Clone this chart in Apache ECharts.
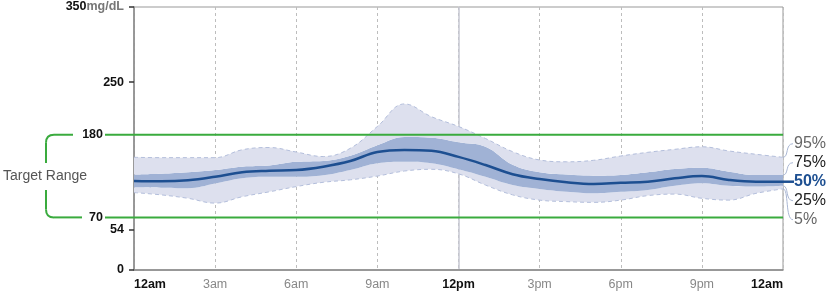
<!DOCTYPE html>
<html>
<head>
<meta charset="utf-8">
<script src="https://cdn.jsdelivr.net/npm/echarts@6/dist/echarts.min.js"></script>
<style>
  html, body { margin: 0; padding: 0; background: #fff; }
  #agp-chart { width: 829px; height: 295px; }
</style>
</head>
<body>
<div id="agp-chart"></div>
<script>
// hourly percentiles, mg/dL (12am .. 12am)
var hours  = [0,1,2,3,4,5,6,7,8,9,10,11,12,13,14,15,16,17,18,19,20,21,22,23,24];
var p95    = [150,149.5,149.5,149.5,160,163,157,151,162,191,221,204,191,175,157.5,146.4,144,146,151.7,156.6,160.6,164,158.4,154,150];
var p75    = [127,128,130,133,137.5,139,144,145,152,166,177,176,170,164,140,130,127,125.5,126.4,130,134.4,136,130.8,126.4,126.4];
var p50    = [118.4,118,119.4,124,130,132,133,137.5,145,157,159.7,158.6,150.5,139.7,127.5,121,116.7,114.5,116,117.5,122,125,119.8,117.5,117.5];
var p25    = [110,109.5,108.7,115,122,124,124,126,133,142,144,142,134,124,113,107.8,104,102,104,106.5,112,115.4,112,111,112];
var p5     = [103,100,95.4,89,97.5,104,111,116.7,120,125,131.7,134,128,113,100,93,91,90,93,99,101,95.4,93,102,108];

var timeTicks   = [0,3,6,9,12,15,18,21,24];
var timeLabels  = ['12am','3am','6am','9am','12pm','3pm','6pm','9pm','12am'];
var yLabelVals  = [0,54,70,180,250,350];
var yTickVals   = [0,54,250,350];
var targetRange = [70,180];
var pctLabels   = ['95%','75%','50%','25%','5%'];

var FONT = 'Arial, "Liberation Sans", sans-serif';
var OUTER = '#dde0ee', INNER = '#a0b2d5', MED = '#1d4f91', EDGE = '#b3bedb', GREEN = '#3aab3e';

function diff(a, b) { return a.map(function (v, i) { return v - b[i]; }); }

var chart = echarts.init(document.getElementById('agp-chart'));

var option = {
  animation: false,
  grid: { left: 134, right: 46, top: 7, bottom: 25, show: true, borderColor: '#999', borderWidth: 1 },
  xAxis: [{
    type: 'category', data: hours, boundaryGap: false,
    axisLine: { show: true, lineStyle: { color: '#888', width: 1.5 } },
    axisTick: { show: false },
    axisLabel: {
      interval: 2, margin: 8, fontFamily: FONT, fontSize: 12.5,
      alignMinLabel: 'left', alignMaxLabel: 'right',
      formatter: function (v) {
        var h = Number(v);
        var t = timeLabels[timeTicks.indexOf(h)];
        return (h % 12 === 0) ? '{b|' + t + '}' : '{n|' + t + '}';
      },
      rich: {
        b: { fontWeight: 'bold', color: '#111', fontFamily: FONT, fontSize: 12.5 },
        n: { color: '#888', fontFamily: FONT, fontSize: 12.5 }
      }
    },
    splitLine: { show: true, interval: 2, lineStyle: { color: '#bdbdbd', type: [3, 3], width: 1 } }
  }, {
    type: 'category', data: hours, boundaryGap: false, position: 'top',
    axisLine: { show: false }, axisTick: { show: false }, axisLabel: { show: false },
    splitLine: { show: true, interval: 11, lineStyle: { color: ['transparent', '#c6c7d2', 'transparent'], width: 1.5 } }
  }],
  yAxis: {
    type: 'value', min: 0, max: 350,
    axisLine: { show: true, lineStyle: { color: '#888', width: 1.5 } },
    axisTick: { show: true, customValues: yTickVals, length: 5, lineStyle: { color: '#333', width: 1.5 } },
    axisLabel: {
      customValues: yLabelVals, margin: 10, fontFamily: FONT,
      formatter: function (v) {
        if (v === 350) return '{a|350}{u|mg/dL}';
        if (targetRange.indexOf(v) >= 0) return '{g|' + v + '}';
        return '{a|' + v + '}';
      },
      rich: {
        a: { fontWeight: 'bold', color: '#111', fontSize: 12.5, fontFamily: FONT },
        u: { fontWeight: 'bold', color: '#777', fontSize: 12.5, fontFamily: FONT },
        g: { fontWeight: 'bold', color: '#111', fontSize: 12.5, fontFamily: FONT, padding: [0, 21, 0, 0] }
      }
    },
    splitLine: { show: false }
  },
  series: [
    { name: '5%', type: 'line', stack: 'agp', smooth: 0.4, symbol: 'none', data: p5,
      lineStyle: { color: EDGE, width: 1, type: [4, 3] } },
    { name: '5-25', type: 'line', stack: 'agp', smooth: 0.4, symbol: 'none', data: diff(p25, p5),
      lineStyle: { width: 0 }, areaStyle: { color: OUTER, opacity: 1 } },
    { name: '25-75', type: 'line', stack: 'agp', smooth: 0.4, symbol: 'none', data: diff(p75, p25),
      lineStyle: { width: 0 }, areaStyle: { color: INNER, opacity: 1 } },
    { name: '75-95', type: 'line', stack: 'agp', smooth: 0.4, symbol: 'none', data: diff(p95, p75),
      lineStyle: { color: EDGE, width: 1, type: [4, 3] }, areaStyle: { color: OUTER, opacity: 1 } },
    { name: '50%', type: 'line', smooth: 0.4, symbol: 'none', data: p50, z: 5,
      lineStyle: { color: MED, width: 2.5 } }
  ]
};
chart.setOption(option);

// annotations: target range bracket, green lines, percentile labels
function px(i, y) { return chart.convertToPixel({ xAxisIndex: 0, yAxisIndex: 0 }, [i, y]); }
var last = hours.length - 1;
var yHi = px(0, targetRange[1])[1], yLo = px(0, targetRange[0])[1];
var xR = px(last, 0)[0];
var yMid = (yHi + yLo) / 2;
var bx = 46, r = 8;
var ends = [p95[last], p75[last], p50[last], p25[last], p5[last]].map(function (v) { return px(last, v)[1]; });
var medY = ends[2];
var labColors = ['#666', '#222', MED, '#222', '#666'];
var gStyle = { stroke: GREEN, lineWidth: 2, fill: null };

function seg(x1, y1, x2, y2) { return { type: 'line', z: 50, shape: { x1: x1, y1: y1, x2: x2, y2: y2 }, style: gStyle }; }
function corner(x1, y1, cx, cy, x2, y2) {
  return { type: 'bezierCurve', z: 50, shape: { x1: x1, y1: y1, cpx1: cx, cpy1: cy, x2: x2, y2: y2 }, style: gStyle };
}

var graphic = [
  seg(105, yHi, xR, yHi),
  seg(105, yLo, xR, yLo),
  seg(73, yHi, bx + r, yHi),
  corner(bx + r, yHi, bx, yHi, bx, yHi + r),
  seg(bx, yHi + r, bx, yMid - 13),
  seg(bx, yMid + 14, bx, yLo - r),
  corner(bx, yLo - r, bx, yLo, bx + r, yLo),
  seg(bx + r, yLo, 82, yLo),
  { type: 'text', z: 50, x: 3, y: yMid, style: { text: 'Target Range', fill: '#555', font: '14px ' + FONT, textVerticalAlign: 'middle' } },
  { type: 'line', z: 50, shape: { x1: xR, y1: medY, x2: xR + 11, y2: medY }, style: { stroke: MED, lineWidth: 2.5 } }
];
pctLabels.forEach(function (t, i) {
  var ly = medY + (i - 2) * 19;
  if (i !== 2) {
    graphic.push({ type: 'bezierCurve', z: 50,
      shape: { x1: xR, y1: ends[i], cpx1: xR + 6, cpy1: ends[i], cpx2: xR + 2, cpy2: ly, x2: xR + 10, y2: ly },
      style: { stroke: '#a9b6d3', lineWidth: 1, fill: null } });
  }
  graphic.push({ type: 'text', z: 50, x: xR + 11, y: ly,
    style: { text: t, fill: labColors[i], font: (i === 2 ? 'bold ' : '') + '16px ' + FONT, textVerticalAlign: 'middle' } });
});
chart.setOption({ graphic: graphic });
</script>
</body>
</html>
